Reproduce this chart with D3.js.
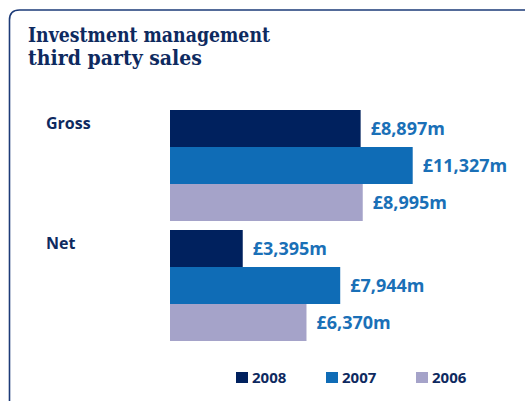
<!DOCTYPE html>
<html>
<head>
<meta charset="utf-8">
<script src="https://cdn.jsdelivr.net/npm/d3@7"></script>
<style>
  html, body { margin: 0; padding: 0; background: #ffffff; }
  svg { display: block; }
</style>
</head>
<body>
<svg id="chart" width="525" height="401"></svg>
<script>
// Third party sales by category (£m), one series per year
const categories = ["Gross", "Net"];
const years = ["2008", "2007", "2006"];
const sales2008 = [8897, 3395];
const sales2007 = [11327, 7944];
const sales2006 = [8995, 6370];
const yearColors = ["#00215e", "#0f6cb6", "#a5a3c9"];
const titleLines = ["Investment management", "third party sales"];

const seriesValues = [sales2008, sales2007, sales2006];

const svg = d3.select("#chart");
const navy = "#0e2a5f";
const labelBlue = "#1a70b7";

// Frame: top rule and left rule joined by a rounded corner
svg.append("path")
  .attr("d", "M 9.5 401 L 9.5 20 Q 9.5 10 19.5 10 L 525 10")
  .attr("fill", "none")
  .attr("stroke", "#1d3b78")
  .attr("stroke-width", 1.6);

// Title, two lines
svg.append("g")
  .selectAll("text")
  .data(titleLines)
  .join("text")
  .attr("x", 28)
  .attr("y", (d, i) => 41.5 + i * 23)
  .attr("textLength", (d, i) => i === 0 ? 242 : 174)
  .attr("lengthAdjust", "spacingAndGlyphs")
  .attr("fill", navy)
  .style("font-family", "'DejaVu Serif', serif")
  .style("font-weight", "bold")
  .style("font-size", "19.5px")
  .text(d => d);

// Scales
const y0 = d3.scaleBand()
  .domain(categories)
  .range([110, 341])
  .paddingInner(0.075)
  .paddingOuter(0);

const y1 = d3.scaleBand()
  .domain(years)
  .range([0, y0.bandwidth()])
  .padding(0);

const x = d3.scaleLinear()
  .domain([0, 11327])
  .range([170, 412.7]);

// Category labels
svg.append("g")
  .selectAll("text")
  .data(categories)
  .join("text")
  .attr("x", 46)
  .attr("y", d => y0(d) + 19)
  .attr("fill", navy)
  .style("font-family", "'Open Sans', sans-serif")
  .style("font-weight", "bold")
  .style("font-size", "16px")
  .text(d => d);

// Bars and value labels
const fmt = d3.format(",");
const groups = svg.append("g")
  .selectAll("g")
  .data(categories)
  .join("g")
  .attr("transform", d => `translate(0,${y0(d)})`);

const cells = groups.selectAll("g")
  .data((c, ci) => years.map((yr, si) => ({ year: yr, value: seriesValues[si][ci], color: yearColors[si] })))
  .join("g");

cells.append("rect")
  .attr("x", x(0))
  .attr("y", d => y1(d.year))
  .attr("width", d => x(d.value) - x(0))
  .attr("height", y1.bandwidth())
  .attr("fill", d => d.color);

cells.append("text")
  .attr("x", d => x(d.value) + 10)
  .attr("y", d => y1(d.year) + y1.bandwidth() / 2 + 6)
  .attr("fill", labelBlue)
  .style("font-family", "'Open Sans', sans-serif")
  .style("font-weight", "bold")
  .style("font-size", "18px")
  .text(d => "£" + fmt(d.value) + "m");

// Legend
const legendX = [236, 326, 416];
const legend = svg.append("g")
  .selectAll("g")
  .data(years)
  .join("g")
  .attr("transform", (d, i) => `translate(${legendX[i]},372)`);

legend.append("rect")
  .attr("width", 12)
  .attr("height", 11)
  .attr("fill", (d, i) => yearColors[i]);

legend.append("text")
  .attr("x", 16)
  .attr("y", 11)
  .attr("fill", navy)
  .style("font-family", "'Open Sans', sans-serif")
  .style("font-weight", "bold")
  .style("font-size", "15px")
  .text(d => d);
</script>
</body>
</html>
